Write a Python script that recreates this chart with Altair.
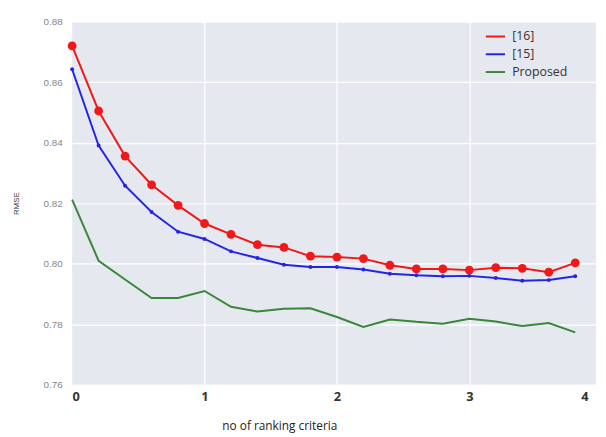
import altair as alt
import pandas as pd

x_vals = [round(0.2 * i, 1) for i in range(20)]
ref16 = [0.8720, 0.8505, 0.8356, 0.8261, 0.8193, 0.8133, 0.8097, 0.8063, 0.8054, 0.8025,
         0.8022, 0.8017, 0.7995, 0.7983, 0.7983, 0.7979, 0.7987, 0.7985, 0.7972, 0.8003]
ref15 = [0.8643, 0.8391, 0.8258, 0.8171, 0.8106, 0.8082, 0.8041, 0.8019, 0.7997, 0.7989,
         0.7989, 0.7981, 0.7967, 0.7962, 0.7959, 0.7960, 0.7953, 0.7944, 0.7946, 0.7959]
proposed = [0.8212, 0.8010, 0.7948, 0.7887, 0.7887, 0.7910, 0.7858, 0.7842, 0.7851, 0.7853,
            0.7824, 0.7791, 0.7816, 0.7808, 0.7802, 0.7818, 0.7809, 0.7794, 0.7804, 0.7773]
series_names = ["[16]", "[15]", "Proposed"]
series_colors = ["#f01818", "#2424e6", "#3a863a"]
marker_series = ["[16]", "[15]"]
marker_sizes = [80, 16]
x_tick_values = [0, 1, 2, 3, 3.87]
y_tick_values = [0.76, 0.78, 0.80, 0.82, 0.84, 0.86, 0.88]

rows = []
for name, vals in zip(series_names, [ref16, ref15, proposed]):
    for xv, yv in zip(x_vals, vals):
        rows.append({"x": xv, "y": yv, "series": name, "marker": name})
df = pd.DataFrame(rows)

xscale = alt.Scale(domain=[0, 3.957], nice=False, zero=False)
yscale = alt.Scale(domain=[0.76, 0.88], nice=False, zero=False)
color = alt.Color("series:N", sort=series_names,
                  scale=alt.Scale(domain=series_names, range=series_colors),
                  legend=alt.Legend(title=None, orient="none", legendX=418, legendY=4,
                                    symbolType="stroke", symbolSize=380, symbolStrokeWidth=2,
                                    labelFontSize=12.5, labelColor="#333333", labelFont="Open Sans",
                                    rowPadding=0, labelOffset=6))

xaxis = alt.Axis(values=x_tick_values, title="no of ranking criteria",
                 labelExpr="datum.value > 3.5 ? '4' : format(datum.value, 'd')",
                 labelFontSize=13, labelFontWeight="bold", labelColor="#333333", labelFont="Open Sans",
                 labelPadding=6, ticks=False, domain=False,
                 titleFontSize=12, titleFontWeight="normal", titleColor="#222222", titleFont="Open Sans",
                 titleX=210, titleY=41, titleAlign="center", titleBaseline="middle",
                 gridColor="white", gridWidth=1.2,
                 gridOpacity=alt.condition("datum.value > 3.5 || datum.value == 0", alt.value(0), alt.value(1)))
yaxis = alt.Axis(values=y_tick_values, format=".2f", title="RMSE",
                 labelFontSize=10, labelColor="#888888", labelFont="Liberation Sans",
                 labelPadding=10, ticks=False, domain=False,
                 titleFontSize=8, titleFontWeight="normal", titleColor="#333333", titleFont="Liberation Sans",
                 titleX=-56, titleBaseline="middle", gridColor="white", gridWidth=1.2)

base = alt.Chart(df)
lines = base.mark_line(strokeWidth=2).encode(
    x=alt.X("x:Q", scale=xscale, axis=xaxis),
    y=alt.Y("y:Q", scale=yscale, axis=yaxis),
    color=color,
)
points = base.transform_filter(
    alt.FieldOneOfPredicate(field="series", oneOf=marker_series)
).mark_circle(opacity=1).encode(
    x=alt.X("x:Q", scale=xscale),
    y=alt.Y("y:Q", scale=yscale),
    fill=alt.Fill("marker:N", scale=alt.Scale(domain=series_names, range=series_colors), legend=None),
    size=alt.Size("marker:N", scale=alt.Scale(domain=marker_series, range=marker_sizes), legend=None),
)

chart = alt.layer(lines, points).resolve_scale(size="independent", fill="independent").properties(
    width=531, height=368,
    autosize=alt.AutoSizeParams(type="none"),
    padding={"left": 65, "top": 11, "right": 2, "bottom": 48},
).configure(background="white").configure_view(fill="#e6e8f0", stroke=None)

chart.save("out.html", embed_options={"renderer": "svg", "actions": False})
